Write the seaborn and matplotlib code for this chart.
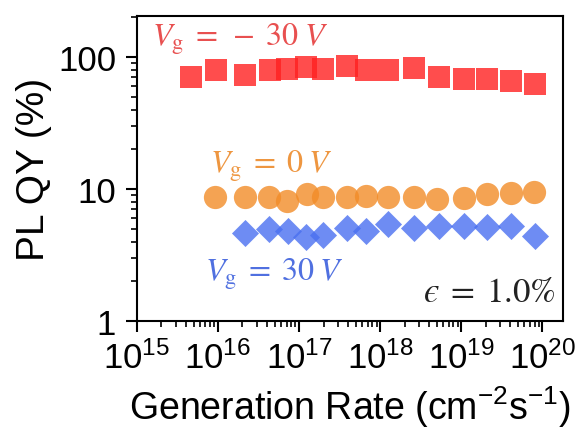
import numpy as np
import pandas as pd
import matplotlib
matplotlib.use("Agg")
import matplotlib.pyplot as plt
import matplotlib.ticker as mticker
import seaborn as sns

# log10 of generation rate (cm^-2 s^-1) and PL QY (%)
x_neg30 = [15.67, 15.97, 16.33, 16.64, 16.85, 17.09, 17.30, 17.59, 17.82, 18.10,
           18.42, 18.72, 19.03, 19.31, 19.61, 19.91]
qy_neg30 = [70.5, 79.8, 73.0, 79.8, 81.0, 84.0, 81.0, 85.5, 80.0, 80.0,
            82.5, 70.5, 68.0, 68.0, 65.8, 62.4]

x_0 = [15.96, 16.33, 16.63, 16.85, 17.10, 17.30, 17.59, 17.82, 18.10, 18.42,
       18.70, 19.03, 19.31, 19.61, 19.90]
qy_0 = [8.7, 8.7, 8.7, 8.1, 9.2, 8.7, 8.7, 8.85, 8.7, 8.7,
        8.4, 8.6, 9.2, 9.3, 9.5]

x_30 = [16.33, 16.63, 16.86, 17.09, 17.30, 17.59, 17.82, 18.10, 18.42, 18.72,
        19.03, 19.31, 19.61, 19.91]
qy_30 = [4.64, 4.98, 4.81, 4.33, 4.48, 5.07, 4.81, 5.43, 5.07, 5.25,
         5.25, 5.16, 5.25, 4.41]

red = "#FF2020"
orange = "#F28C28"
blue = "#4A70F0"

sns.set_style("ticks")
plt.rcParams["font.family"] = ["Liberation Sans", "DejaVu Sans"]
plt.rcParams["mathtext.fontset"] = "custom"
plt.rcParams["mathtext.rm"] = "Liberation Sans"
plt.rcParams["mathtext.it"] = "Liberation Sans:italic"
plt.rcParams["mathtext.bf"] = "Liberation Sans:bold"
plt.rcParams["text.color"] = "black"
plt.rcParams["axes.labelcolor"] = "black"

fig = plt.figure(figsize=(5.8, 4.39), dpi=100)
ax = fig.add_axes([0.236, 0.2665, 0.735, 0.6945])

df_a = pd.DataFrame({"G": np.power(10.0, x_neg30), "QY": qy_neg30})
df_b = pd.DataFrame({"G": np.power(10.0, x_0), "QY": qy_0})
df_c = pd.DataFrame({"G": np.power(10.0, x_30), "QY": qy_30})

sns.scatterplot(data=df_a, x="G", y="QY", marker="s", s=240, color=red,
                alpha=0.8, linewidth=0, ax=ax)
sns.scatterplot(data=df_b, x="G", y="QY", marker="o", s=280, color=orange,
                alpha=0.8, linewidth=0, ax=ax)
sns.scatterplot(data=df_c, x="G", y="QY", marker="D", s=190, color=blue,
                alpha=0.8, linewidth=0, ax=ax)

ax.set_xscale("log")
ax.set_yscale("log")
ax.set_xlim(1e15, 1.8e20)
ax.set_ylim(1, 204)

ax.xaxis.set_major_locator(mticker.LogLocator(base=10, numticks=10))
ax.xaxis.set_minor_locator(mticker.LogLocator(base=10, subs=np.arange(2, 10), numticks=20))
ax.xaxis.set_minor_formatter(mticker.NullFormatter())
ax.yaxis.set_major_locator(mticker.FixedLocator([1, 10, 100]))
ax.yaxis.set_major_formatter(mticker.FuncFormatter(lambda v, p: f"{v:g}"))
ax.yaxis.set_minor_locator(mticker.LogLocator(base=10, subs=np.arange(2, 10), numticks=20))
ax.yaxis.set_minor_formatter(mticker.NullFormatter())

for s in ax.spines.values():
    s.set_linewidth(1.5)
    s.set_color("black")
ax.tick_params(which="major", direction="out", length=8, width=1.5, labelsize=25,
               colors="black")
ax.tick_params(axis="x", which="major", pad=6)
ax.tick_params(axis="y", which="major", pad=7)
ax.tick_params(which="minor", direction="out", length=4, width=1.2, colors="black")

ax.set_xlabel("Generation Rate (cm$^{-2}$s$^{-1}$)", fontsize=27, labelpad=6)
ax.set_ylabel("PL QY (%)", fontsize=28, labelpad=4)

ax.text(0.035, 0.985, r"$V_\mathrm{g}\;=\;-\;30\;V$", transform=ax.transAxes,
        fontsize=23, color="#E85050", math_fontfamily="stix", va="top", ha="left")
ax.text(0.171, 0.57, r"$V_\mathrm{g}\;=\;0\;V$", transform=ax.transAxes,
        fontsize=23, color="#EE9640", math_fontfamily="stix", va="top", ha="left")
ax.text(0.16, 0.215, r"$V_\mathrm{g}\;=\;30\;V$", transform=ax.transAxes,
        fontsize=23, color="#5070E0", math_fontfamily="stix", va="top", ha="left")
ax.text(0.981, 0.066, "$\u03f5\\;=\\;1.0\\%$", transform=ax.transAxes,
        fontsize=25, color="#222222", math_fontfamily="stix", va="baseline", ha="right")

fig.savefig("out.png", dpi=100)
